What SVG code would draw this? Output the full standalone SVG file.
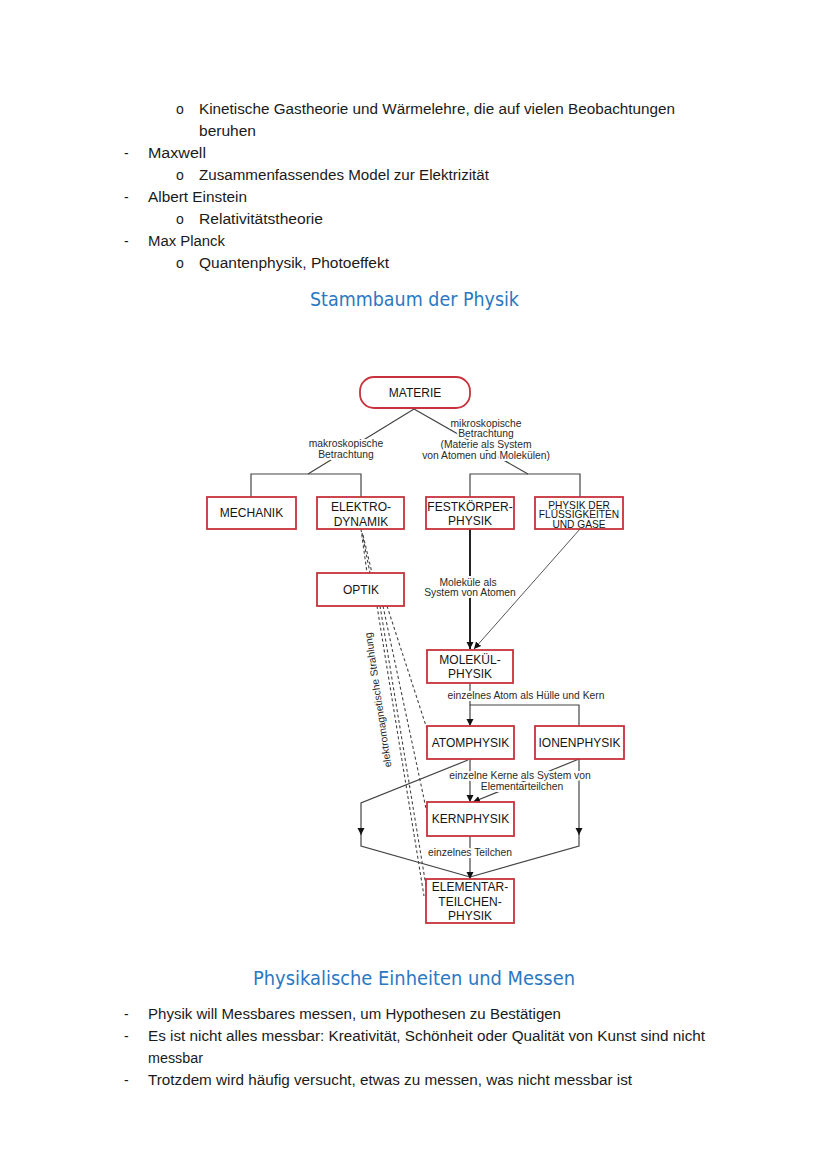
<svg xmlns="http://www.w3.org/2000/svg" width="828" height="1171" viewBox="0 0 828 1171">
<defs>
<marker id="ah" viewBox="0 0 10 10" refX="10" refY="5" markerWidth="7" markerHeight="9" markerUnits="userSpaceOnUse" orient="auto">
<path d="M0,0 L10,5 L0,10 z" fill="#111"/>
</marker>
<style>
.body{font-family:"Liberation Sans",Arial,sans-serif;font-size:14px;fill:#1a1a1a}
.head{font-family:"DejaVu Sans","Liberation Sans",sans-serif;font-size:19px;fill:#2a78c2}
.box{fill:#fff;stroke:#c8323c;stroke-width:1.8}
.bt{font-family:"Liberation Sans",Arial,sans-serif;font-size:12px;fill:#151515;text-anchor:middle}
.bs{font-family:"Liberation Sans",Arial,sans-serif;font-size:10.2px;fill:#151515;text-anchor:middle}
.lbl{font-family:"Liberation Sans",Arial,sans-serif;font-size:10.3px;fill:#2a2a2a;text-anchor:middle;stroke:#fff;stroke-width:4;paint-order:stroke;stroke-linejoin:round}
.ln{fill:none;stroke:#444;stroke-width:1.2}
.thick{fill:none;stroke:#222;stroke-width:2}
.thin{fill:none;stroke:#555;stroke-width:1}
.dash{fill:none;stroke:#444;stroke-width:1.1;stroke-dasharray:3 2.5}
</style>
</defs>

<g id="text-top">
<text class="body" x="176" y="114">o</text>
<text class="body" x="199" y="114" textLength="476" lengthAdjust="spacingAndGlyphs">Kinetische Gastheorie und Wärmelehre, die auf vielen Beobachtungen</text>
<text class="body" x="199" y="136" textLength="57" lengthAdjust="spacingAndGlyphs">beruhen</text>
<text class="body" x="124" y="158">-</text>
<text class="body" x="148" y="158" textLength="58" lengthAdjust="spacingAndGlyphs">Maxwell</text>
<text class="body" x="176" y="180">o</text>
<text class="body" x="199" y="180" textLength="290" lengthAdjust="spacingAndGlyphs">Zusammenfassendes Model zur Elektrizität</text>
<text class="body" x="124" y="202">-</text>
<text class="body" x="148" y="202" textLength="99" lengthAdjust="spacingAndGlyphs">Albert Einstein</text>
<text class="body" x="176" y="224">o</text>
<text class="body" x="199" y="224" textLength="124" lengthAdjust="spacingAndGlyphs">Relativitätstheorie</text>
<text class="body" x="124" y="246">-</text>
<text class="body" x="148" y="246" textLength="77" lengthAdjust="spacingAndGlyphs">Max Planck</text>
<text class="body" x="176" y="268">o</text>
<text class="body" x="199" y="268" textLength="190" lengthAdjust="spacingAndGlyphs">Quantenphysik, Photoeffekt</text>
<text class="head" x="310" y="306" textLength="209" lengthAdjust="spacingAndGlyphs">Stammbaum der Physik</text>
</g>

<g id="connectors">
<path class="ln" d="M414,409 L308,474"/>
<path class="ln" d="M251,497 L251,474 L361,474 L361,497"/>
<path class="ln" d="M414,409 L528,474"/>
<path class="ln" d="M470,497 L470,474 L580,474 L580,497"/>
<path class="thick" d="M470,529 L470,649" marker-end="url(#ah)"/>
<path class="thin" d="M580,529 L474,649" marker-end="url(#ah)"/>
<path class="ln" d="M470,683 L470,705"/>
<path class="ln" d="M579,726 L579,705 L470,705 L470,726" marker-end="url(#ah)"/>
<path class="ln" d="M470,759 L470,802" marker-end="url(#ah)"/>
<path class="ln" d="M579,759 L473,802" marker-end="url(#ah)"/>
<path class="ln" d="M468,760 L361,803 L361,835" marker-end="url(#ah)"/>
<path class="ln" d="M361,834 L361,846 L470,877"/>
<path class="ln" d="M579,759 L579,835" marker-end="url(#ah)"/>
<path class="ln" d="M579,834 L579,846 L470,877"/>
<path class="ln" d="M470,836 L470,879" marker-end="url(#ah)"/>
<path class="dash" d="M361,529 L367,573" stroke-width="2"/>
<path class="dash" d="M362,533 L370,573"/>
<path class="dash" d="M363,535 L372,573"/>
<path class="dash" d="M377,606 L424,896"/>
<path class="dash" d="M380,606 L426,886"/>
<path class="dash" d="M383,606 L427,813"/>
<path class="dash" d="M387,606 L427,729"/>
<text class="lbl" x="346" y="447">makroskopische</text>
<text class="lbl" x="346" y="458">Betrachtung</text>
<text class="lbl" x="486" y="426.5">mikroskopische</text>
<text class="lbl" x="486" y="437">Betrachtung</text>
<text class="lbl" x="486" y="447.5">(Materie als System</text>
<text class="lbl" x="486" y="458.5">von Atomen und Molekülen)</text>
<text class="lbl" x="468" y="585.5">Moleküle als</text>
<text class="lbl" x="470" y="596">System von Atomen</text>
<text class="lbl" x="526" y="698.5">einzelnes Atom als Hülle und Kern</text>
<text class="lbl" x="520" y="778.5">einzelne Kerne als System von</text>
<text class="lbl" x="522" y="789.5">Elementarteilchen</text>
<text class="lbl" x="470" y="855.5">einzelnes Teilchen</text>
<text class="lbl" x="0" y="0" transform="translate(378,700) rotate(-98.5)" dy="3.5" stroke-width="0">elektromagnetische Strahlung</text>
</g>

<g id="materie">
<rect class="box" x="360" y="377" width="110" height="31" rx="14"/>
<text class="bt" x="415" y="397">MATERIE</text>
</g>
<g id="mechanik">
<rect class="box" x="207" y="497" width="89" height="32"/>
<text class="bt" x="251.5" y="517">MECHANIK</text>
</g>
<g id="elektrodynamik">
<rect class="box" x="317" y="497" width="87" height="32"/>
<text class="bt" x="361" y="511">ELEKTRO-</text>
<text class="bt" x="361" y="525.5">DYNAMIK</text>
</g>
<g id="festkoerper">
<rect class="box" x="426" y="497" width="88" height="32"/>
<text class="bt" x="470" y="510.5">FESTKÖRPER-</text>
<text class="bt" x="470" y="525">PHYSIK</text>
</g>
<g id="fluessigkeiten">
<rect class="box" x="535" y="497" width="88" height="32"/>
<text class="bs" x="579" y="508.5">PHYSIK DER</text>
<text class="bs" x="579" y="518">FLÜSSIGKEITEN</text>
<text class="bs" x="579" y="527.5">UND GASE</text>
</g>
<g id="optik">
<rect class="box" x="317" y="573" width="87" height="33"/>
<text class="bt" x="361" y="594">OPTIK</text>
</g>
<g id="molekuel">
<rect class="box" x="427" y="650" width="86" height="33"/>
<text class="bt" x="470" y="664">MOLEKÜL-</text>
<text class="bt" x="470" y="678">PHYSIK</text>
</g>
<g id="atom">
<rect class="box" x="427" y="726" width="87" height="33"/>
<text class="bt" x="470.5" y="747">ATOMPHYSIK</text>
</g>
<g id="ionen">
<rect class="box" x="535" y="726" width="89" height="33"/>
<text class="bt" x="579.5" y="747">IONENPHYSIK</text>
</g>
<g id="kern">
<rect class="box" x="427" y="802" width="87" height="34"/>
<text class="bt" x="470.5" y="823">KERNPHYSIK</text>
</g>
<g id="elementar">
<rect class="box" x="426" y="879" width="88" height="44"/>
<text class="bt" x="470" y="891">ELEMENTAR-</text>
<text class="bt" x="470" y="905.5">TEILCHEN-</text>
<text class="bt" x="470" y="920">PHYSIK</text>
</g>

<g id="text-bottom">
<text class="head" x="253" y="985" textLength="322" lengthAdjust="spacingAndGlyphs">Physikalische Einheiten und Messen</text>
<text class="body" x="124" y="1019">-</text>
<text class="body" x="148" y="1019" textLength="413" lengthAdjust="spacingAndGlyphs">Physik will Messbares messen, um Hypothesen zu Bestätigen</text>
<text class="body" x="124" y="1041">-</text>
<text class="body" x="148" y="1041" textLength="557" lengthAdjust="spacingAndGlyphs">Es ist nicht alles messbar: Kreativität, Schönheit oder Qualität von Kunst sind nicht</text>
<text class="body" x="148" y="1063" textLength="55" lengthAdjust="spacingAndGlyphs">messbar</text>
<text class="body" x="124" y="1085">-</text>
<text class="body" x="148" y="1085" textLength="484" lengthAdjust="spacingAndGlyphs">Trotzdem wird häufig versucht, etwas zu messen, was nicht messbar ist</text>
</g>
</svg>
